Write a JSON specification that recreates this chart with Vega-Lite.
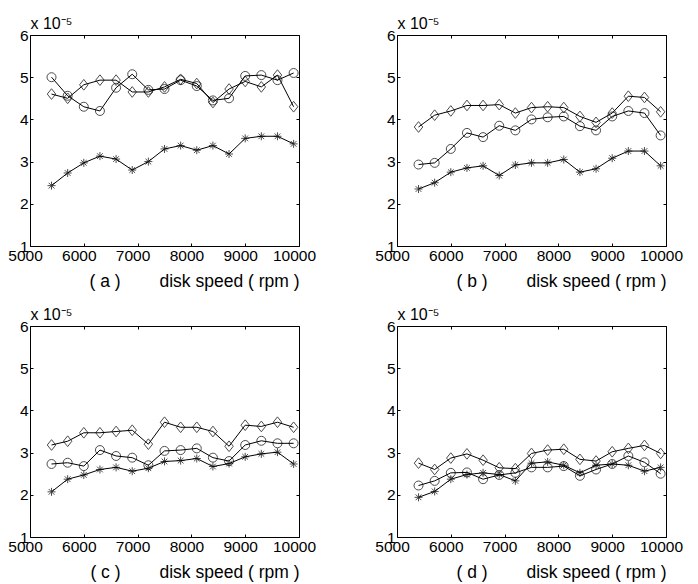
{
  "$schema": "https://vega.github.io/schema/vega-lite/v6.json",
  "background": "white",
  "padding": {"left": 7, "top": 15, "right": 5, "bottom": 5},
  "config": {
    "font": "Liberation Sans",
    "view": {"stroke": null},
    "axis": {"labelFont": "Liberation Sans", "labelFontSize": 15.5, "labelColor": "black", "titleFont": "Liberation Sans", "titleFontSize": 17.5, "titleFontWeight": "normal", "titleColor": "black", "tickColor": "black", "domainColor": "black", "grid": false, "tickSize": -3, "domainWidth": 1, "tickWidth": 1}
  },
  "datasets": {
    "pts": [
      {"p":"a","s":"circle","x":5400,"y":5.0},{"p":"a","s":"circle","x":5700,"y":4.56},{"p":"a","s":"circle","x":6000,"y":4.3},{"p":"a","s":"circle","x":6300,"y":4.2},{"p":"a","s":"circle","x":6600,"y":4.75},{"p":"a","s":"circle","x":6900,"y":5.07},{"p":"a","s":"circle","x":7200,"y":4.7},{"p":"a","s":"circle","x":7500,"y":4.72},{"p":"a","s":"circle","x":7800,"y":4.93},{"p":"a","s":"circle","x":8100,"y":4.79},{"p":"a","s":"circle","x":8400,"y":4.45},{"p":"a","s":"circle","x":8700,"y":4.5},{"p":"a","s":"circle","x":9000,"y":5.03},{"p":"a","s":"circle","x":9300,"y":5.05},{"p":"a","s":"circle","x":9600,"y":4.93},{"p":"a","s":"circle","x":9900,"y":5.1},
      {"p":"a","s":"diamond","x":5400,"y":4.6},{"p":"a","s":"diamond","x":5700,"y":4.5},{"p":"a","s":"diamond","x":6000,"y":4.82},{"p":"a","s":"diamond","x":6300,"y":4.93},{"p":"a","s":"diamond","x":6600,"y":4.93},{"p":"a","s":"diamond","x":6900,"y":4.65},{"p":"a","s":"diamond","x":7200,"y":4.65},{"p":"a","s":"diamond","x":7500,"y":4.77},{"p":"a","s":"diamond","x":7800,"y":4.95},{"p":"a","s":"diamond","x":8100,"y":4.85},{"p":"a","s":"diamond","x":8400,"y":4.4},{"p":"a","s":"diamond","x":8700,"y":4.72},{"p":"a","s":"diamond","x":9000,"y":4.9},{"p":"a","s":"diamond","x":9300,"y":4.77},{"p":"a","s":"diamond","x":9600,"y":5.05},{"p":"a","s":"diamond","x":9900,"y":4.3},
      {"p":"a","s":"star","x":5400,"y":2.43},{"p":"a","s":"star","x":5700,"y":2.73},{"p":"a","s":"star","x":6000,"y":2.97},{"p":"a","s":"star","x":6300,"y":3.13},{"p":"a","s":"star","x":6600,"y":3.06},{"p":"a","s":"star","x":6900,"y":2.8},{"p":"a","s":"star","x":7200,"y":3.0},{"p":"a","s":"star","x":7500,"y":3.3},{"p":"a","s":"star","x":7800,"y":3.38},{"p":"a","s":"star","x":8100,"y":3.27},{"p":"a","s":"star","x":8400,"y":3.38},{"p":"a","s":"star","x":8700,"y":3.18},{"p":"a","s":"star","x":9000,"y":3.55},{"p":"a","s":"star","x":9300,"y":3.6},{"p":"a","s":"star","x":9600,"y":3.6},{"p":"a","s":"star","x":9900,"y":3.42},
      {"p":"b","s":"circle","x":5400,"y":2.93},{"p":"b","s":"circle","x":5700,"y":2.97},{"p":"b","s":"circle","x":6000,"y":3.3},{"p":"b","s":"circle","x":6300,"y":3.68},{"p":"b","s":"circle","x":6600,"y":3.58},{"p":"b","s":"circle","x":6900,"y":3.85},{"p":"b","s":"circle","x":7200,"y":3.74},{"p":"b","s":"circle","x":7500,"y":4.0},{"p":"b","s":"circle","x":7800,"y":4.05},{"p":"b","s":"circle","x":8100,"y":4.07},{"p":"b","s":"circle","x":8400,"y":3.84},{"p":"b","s":"circle","x":8700,"y":3.74},{"p":"b","s":"circle","x":9000,"y":4.07},{"p":"b","s":"circle","x":9300,"y":4.2},{"p":"b","s":"circle","x":9600,"y":4.15},{"p":"b","s":"circle","x":9900,"y":3.62},
      {"p":"b","s":"diamond","x":5400,"y":3.82},{"p":"b","s":"diamond","x":5700,"y":4.1},{"p":"b","s":"diamond","x":6000,"y":4.2},{"p":"b","s":"diamond","x":6300,"y":4.33},{"p":"b","s":"diamond","x":6600,"y":4.33},{"p":"b","s":"diamond","x":6900,"y":4.35},{"p":"b","s":"diamond","x":7200,"y":4.15},{"p":"b","s":"diamond","x":7500,"y":4.28},{"p":"b","s":"diamond","x":7800,"y":4.3},{"p":"b","s":"diamond","x":8100,"y":4.28},{"p":"b","s":"diamond","x":8400,"y":4.07},{"p":"b","s":"diamond","x":8700,"y":3.93},{"p":"b","s":"diamond","x":9000,"y":4.15},{"p":"b","s":"diamond","x":9300,"y":4.55},{"p":"b","s":"diamond","x":9600,"y":4.52},{"p":"b","s":"diamond","x":9900,"y":4.18},
      {"p":"b","s":"star","x":5400,"y":2.35},{"p":"b","s":"star","x":5700,"y":2.5},{"p":"b","s":"star","x":6000,"y":2.75},{"p":"b","s":"star","x":6300,"y":2.85},{"p":"b","s":"star","x":6600,"y":2.9},{"p":"b","s":"star","x":6900,"y":2.67},{"p":"b","s":"star","x":7200,"y":2.92},{"p":"b","s":"star","x":7500,"y":2.97},{"p":"b","s":"star","x":7800,"y":2.97},{"p":"b","s":"star","x":8100,"y":3.05},{"p":"b","s":"star","x":8400,"y":2.75},{"p":"b","s":"star","x":8700,"y":2.83},{"p":"b","s":"star","x":9000,"y":3.08},{"p":"b","s":"star","x":9300,"y":3.25},{"p":"b","s":"star","x":9600,"y":3.25},{"p":"b","s":"star","x":9900,"y":2.9},
      {"p":"c","s":"circle","x":5400,"y":2.73},{"p":"c","s":"circle","x":5700,"y":2.76},{"p":"c","s":"circle","x":6000,"y":2.68},{"p":"c","s":"circle","x":6300,"y":3.06},{"p":"c","s":"circle","x":6600,"y":2.92},{"p":"c","s":"circle","x":6900,"y":2.88},{"p":"c","s":"circle","x":7200,"y":2.7},{"p":"c","s":"circle","x":7500,"y":3.04},{"p":"c","s":"circle","x":7800,"y":3.06},{"p":"c","s":"circle","x":8100,"y":3.1},{"p":"c","s":"circle","x":8400,"y":2.88},{"p":"c","s":"circle","x":8700,"y":2.8},{"p":"c","s":"circle","x":9000,"y":3.18},{"p":"c","s":"circle","x":9300,"y":3.28},{"p":"c","s":"circle","x":9600,"y":3.22},{"p":"c","s":"circle","x":9900,"y":3.22},
      {"p":"c","s":"diamond","x":5400,"y":3.18},{"p":"c","s":"diamond","x":5700,"y":3.27},{"p":"c","s":"diamond","x":6000,"y":3.47},{"p":"c","s":"diamond","x":6300,"y":3.47},{"p":"c","s":"diamond","x":6600,"y":3.5},{"p":"c","s":"diamond","x":6900,"y":3.53},{"p":"c","s":"diamond","x":7200,"y":3.2},{"p":"c","s":"diamond","x":7500,"y":3.72},{"p":"c","s":"diamond","x":7800,"y":3.6},{"p":"c","s":"diamond","x":8100,"y":3.6},{"p":"c","s":"diamond","x":8400,"y":3.5},{"p":"c","s":"diamond","x":8700,"y":3.15},{"p":"c","s":"diamond","x":9000,"y":3.65},{"p":"c","s":"diamond","x":9300,"y":3.62},{"p":"c","s":"diamond","x":9600,"y":3.72},{"p":"c","s":"diamond","x":9900,"y":3.6},
      {"p":"c","s":"star","x":5400,"y":2.07},{"p":"c","s":"star","x":5700,"y":2.37},{"p":"c","s":"star","x":6000,"y":2.47},{"p":"c","s":"star","x":6300,"y":2.6},{"p":"c","s":"star","x":6600,"y":2.65},{"p":"c","s":"star","x":6900,"y":2.56},{"p":"c","s":"star","x":7200,"y":2.63},{"p":"c","s":"star","x":7500,"y":2.79},{"p":"c","s":"star","x":7800,"y":2.81},{"p":"c","s":"star","x":8100,"y":2.86},{"p":"c","s":"star","x":8400,"y":2.67},{"p":"c","s":"star","x":8700,"y":2.74},{"p":"c","s":"star","x":9000,"y":2.9},{"p":"c","s":"star","x":9300,"y":2.97},{"p":"c","s":"star","x":9600,"y":3.01},{"p":"c","s":"star","x":9900,"y":2.73},
      {"p":"d","s":"circle","x":5400,"y":2.22},{"p":"d","s":"circle","x":5700,"y":2.33},{"p":"d","s":"circle","x":6000,"y":2.52},{"p":"d","s":"circle","x":6300,"y":2.53},{"p":"d","s":"circle","x":6600,"y":2.37},{"p":"d","s":"circle","x":6900,"y":2.47},{"p":"d","s":"circle","x":7200,"y":2.52},{"p":"d","s":"circle","x":7500,"y":2.65},{"p":"d","s":"circle","x":7800,"y":2.65},{"p":"d","s":"circle","x":8100,"y":2.68},{"p":"d","s":"circle","x":8400,"y":2.45},{"p":"d","s":"circle","x":8700,"y":2.6},{"p":"d","s":"circle","x":9000,"y":2.73},{"p":"d","s":"circle","x":9300,"y":2.92},{"p":"d","s":"circle","x":9600,"y":2.77},{"p":"d","s":"circle","x":9900,"y":2.5},
      {"p":"d","s":"diamond","x":5400,"y":2.75},{"p":"d","s":"diamond","x":5700,"y":2.6},{"p":"d","s":"diamond","x":6000,"y":2.87},{"p":"d","s":"diamond","x":6300,"y":2.97},{"p":"d","s":"diamond","x":6600,"y":2.82},{"p":"d","s":"diamond","x":6900,"y":2.64},{"p":"d","s":"diamond","x":7200,"y":2.62},{"p":"d","s":"diamond","x":7500,"y":2.98},{"p":"d","s":"diamond","x":7800,"y":3.06},{"p":"d","s":"diamond","x":8100,"y":3.08},{"p":"d","s":"diamond","x":8400,"y":2.84},{"p":"d","s":"diamond","x":8700,"y":2.8},{"p":"d","s":"diamond","x":9000,"y":3.02},{"p":"d","s":"diamond","x":9300,"y":3.1},{"p":"d","s":"diamond","x":9600,"y":3.17},{"p":"d","s":"diamond","x":9900,"y":2.98},
      {"p":"d","s":"star","x":5400,"y":1.94},{"p":"d","s":"star","x":5700,"y":2.08},{"p":"d","s":"star","x":6000,"y":2.37},{"p":"d","s":"star","x":6300,"y":2.48},{"p":"d","s":"star","x":6600,"y":2.52},{"p":"d","s":"star","x":6900,"y":2.48},{"p":"d","s":"star","x":7200,"y":2.33},{"p":"d","s":"star","x":7500,"y":2.75},{"p":"d","s":"star","x":7800,"y":2.78},{"p":"d","s":"star","x":8100,"y":2.7},{"p":"d","s":"star","x":8400,"y":2.52},{"p":"d","s":"star","x":8700,"y":2.7},{"p":"d","s":"star","x":9000,"y":2.73},{"p":"d","s":"star","x":9300,"y":2.7},{"p":"d","s":"star","x":9600,"y":2.56},{"p":"d","s":"star","x":9900,"y":2.65}
    ]
  },
  "data": {"name": "pts"},
  "columns": 2,
  "bounds": "flush",
  "spacing": {"row": 80, "column": 98},
  "concat": [
    {
      "width": 269, "height": 211,
      "transform": [{"filter": "datum.p === 'a'"}],
      "layer": [
        {"mark": {"type": "line", "color": "black", "strokeWidth": 1}, "encoding": {"x": {"field": "x", "type": "quantitative", "scale": {"domain": [5000, 10000], "nice": false}, "axis": {"orient": "bottom", "values": [5000,6000,7000,8000,9000,10000], "format": "d", "labelFlush": false, "labelOffset": -5, "labelPadding": 5, "title": "( a )\u00a0\u00a0\u00a0\u00a0\u00a0\u00a0\u00a0 disk speed ( rpm )", "titleAnchor": "end", "titlePadding": 9}}, "y": {"field": "y", "type": "quantitative", "scale": {"domain": [1, 6], "nice": false}, "axis": {"orient": "left", "values": [1,2,3,4,5,6], "labelPadding": 5, "title": "x 10⁻⁵", "titleFontSize": 16, "titleAngle": 0, "titleAlign": "left", "titleBaseline": "alphabetic", "titleX": 0, "titleY": -7}}, "detail": {"field": "s"}}},
        {"mark": {"type": "point", "color": "black", "filled": false, "size": 100}, "encoding": {"x": {"field": "x", "type": "quantitative", "axis": null}, "y": {"field": "y", "type": "quantitative", "axis": null}, "shape": {"field": "s", "scale": {"domain": ["circle","diamond","star"], "range": ["M0.9,0A0.9,0.9,0,1,1,-0.9,0A0.9,0.9,0,1,1,0.9,0Z", "M0,-1.07L0.85,0L0,1.07L-0.85,0Z", "M-0.8,0L0.8,0M0,-0.8L0,0.8M-0.57,-0.57L0.57,0.57M-0.57,0.57L0.57,-0.57"]}, "legend": null}, "strokeWidth": {"field": "s", "scale": {"domain": ["circle","diamond","star"], "range": [1, 1, 1.8]}, "legend": null}}},
        {"mark": {"type": "line", "opacity": 0}, "encoding": {"x": {"field": "x", "type": "quantitative", "axis": {"orient": "top", "values": [5000,6000,7000,8000,9000,10000], "labels": false, "title": null}}, "y": {"field": "y", "type": "quantitative", "axis": {"orient": "right", "values": [1,2,3,4,5,6], "labels": false, "title": null}}, "detail": {"field": "s"}}}
      ],
      "resolve": {"axis": {"x": "independent", "y": "independent"}}
    },
    {
      "width": 269, "height": 211,
      "transform": [{"filter": "datum.p === 'b'"}],
      "layer": [
        {"mark": {"type": "line", "color": "black", "strokeWidth": 1}, "encoding": {"x": {"field": "x", "type": "quantitative", "scale": {"domain": [5000, 10000], "nice": false}, "axis": {"orient": "bottom", "values": [5000,6000,7000,8000,9000,10000], "format": "d", "labelFlush": false, "labelOffset": -5, "labelPadding": 5, "title": "( b )\u00a0\u00a0\u00a0\u00a0\u00a0\u00a0\u00a0 disk speed ( rpm )", "titleAnchor": "end", "titlePadding": 9}}, "y": {"field": "y", "type": "quantitative", "scale": {"domain": [1, 6], "nice": false}, "axis": {"orient": "left", "values": [1,2,3,4,5,6], "labelPadding": 5, "title": "x 10⁻⁵", "titleFontSize": 16, "titleAngle": 0, "titleAlign": "left", "titleBaseline": "alphabetic", "titleX": 0, "titleY": -7}}, "detail": {"field": "s"}}},
        {"mark": {"type": "point", "color": "black", "filled": false, "size": 100}, "encoding": {"x": {"field": "x", "type": "quantitative", "axis": null}, "y": {"field": "y", "type": "quantitative", "axis": null}, "shape": {"field": "s", "scale": {"domain": ["circle","diamond","star"], "range": ["M0.9,0A0.9,0.9,0,1,1,-0.9,0A0.9,0.9,0,1,1,0.9,0Z", "M0,-1.07L0.85,0L0,1.07L-0.85,0Z", "M-0.8,0L0.8,0M0,-0.8L0,0.8M-0.57,-0.57L0.57,0.57M-0.57,0.57L0.57,-0.57"]}, "legend": null}, "strokeWidth": {"field": "s", "scale": {"domain": ["circle","diamond","star"], "range": [1, 1, 1.8]}, "legend": null}}},
        {"mark": {"type": "line", "opacity": 0}, "encoding": {"x": {"field": "x", "type": "quantitative", "axis": {"orient": "top", "values": [5000,6000,7000,8000,9000,10000], "labels": false, "title": null}}, "y": {"field": "y", "type": "quantitative", "axis": {"orient": "right", "values": [1,2,3,4,5,6], "labels": false, "title": null}}, "detail": {"field": "s"}}}
      ],
      "resolve": {"axis": {"x": "independent", "y": "independent"}}
    },
    {
      "width": 269, "height": 211,
      "transform": [{"filter": "datum.p === 'c'"}],
      "layer": [
        {"mark": {"type": "line", "color": "black", "strokeWidth": 1}, "encoding": {"x": {"field": "x", "type": "quantitative", "scale": {"domain": [5000, 10000], "nice": false}, "axis": {"orient": "bottom", "values": [5000,6000,7000,8000,9000,10000], "format": "d", "labelFlush": false, "labelOffset": -5, "labelPadding": 5, "title": "( c )\u00a0\u00a0\u00a0\u00a0\u00a0\u00a0\u00a0 disk speed ( rpm )", "titleAnchor": "end", "titlePadding": 9}}, "y": {"field": "y", "type": "quantitative", "scale": {"domain": [1, 6], "nice": false}, "axis": {"orient": "left", "values": [1,2,3,4,5,6], "labelPadding": 5, "title": "x 10⁻⁵", "titleFontSize": 16, "titleAngle": 0, "titleAlign": "left", "titleBaseline": "alphabetic", "titleX": 0, "titleY": -7}}, "detail": {"field": "s"}}},
        {"mark": {"type": "point", "color": "black", "filled": false, "size": 100}, "encoding": {"x": {"field": "x", "type": "quantitative", "axis": null}, "y": {"field": "y", "type": "quantitative", "axis": null}, "shape": {"field": "s", "scale": {"domain": ["circle","diamond","star"], "range": ["M0.9,0A0.9,0.9,0,1,1,-0.9,0A0.9,0.9,0,1,1,0.9,0Z", "M0,-1.07L0.85,0L0,1.07L-0.85,0Z", "M-0.8,0L0.8,0M0,-0.8L0,0.8M-0.57,-0.57L0.57,0.57M-0.57,0.57L0.57,-0.57"]}, "legend": null}, "strokeWidth": {"field": "s", "scale": {"domain": ["circle","diamond","star"], "range": [1, 1, 1.8]}, "legend": null}}},
        {"mark": {"type": "line", "opacity": 0}, "encoding": {"x": {"field": "x", "type": "quantitative", "axis": {"orient": "top", "values": [5000,6000,7000,8000,9000,10000], "labels": false, "title": null}}, "y": {"field": "y", "type": "quantitative", "axis": {"orient": "right", "values": [1,2,3,4,5,6], "labels": false, "title": null}}, "detail": {"field": "s"}}}
      ],
      "resolve": {"axis": {"x": "independent", "y": "independent"}}
    },
    {
      "width": 269, "height": 211,
      "transform": [{"filter": "datum.p === 'd'"}],
      "layer": [
        {"mark": {"type": "line", "color": "black", "strokeWidth": 1}, "encoding": {"x": {"field": "x", "type": "quantitative", "scale": {"domain": [5000, 10000], "nice": false}, "axis": {"orient": "bottom", "values": [5000,6000,7000,8000,9000,10000], "format": "d", "labelFlush": false, "labelOffset": -5, "labelPadding": 5, "title": "( d )\u00a0\u00a0\u00a0\u00a0\u00a0\u00a0\u00a0 disk speed ( rpm )", "titleAnchor": "end", "titlePadding": 9}}, "y": {"field": "y", "type": "quantitative", "scale": {"domain": [1, 6], "nice": false}, "axis": {"orient": "left", "values": [1,2,3,4,5,6], "labelPadding": 5, "title": "x 10⁻⁵", "titleFontSize": 16, "titleAngle": 0, "titleAlign": "left", "titleBaseline": "alphabetic", "titleX": 0, "titleY": -7}}, "detail": {"field": "s"}}},
        {"mark": {"type": "point", "color": "black", "filled": false, "size": 100}, "encoding": {"x": {"field": "x", "type": "quantitative", "axis": null}, "y": {"field": "y", "type": "quantitative", "axis": null}, "shape": {"field": "s", "scale": {"domain": ["circle","diamond","star"], "range": ["M0.9,0A0.9,0.9,0,1,1,-0.9,0A0.9,0.9,0,1,1,0.9,0Z", "M0,-1.07L0.85,0L0,1.07L-0.85,0Z", "M-0.8,0L0.8,0M0,-0.8L0,0.8M-0.57,-0.57L0.57,0.57M-0.57,0.57L0.57,-0.57"]}, "legend": null}, "strokeWidth": {"field": "s", "scale": {"domain": ["circle","diamond","star"], "range": [1, 1, 1.8]}, "legend": null}}},
        {"mark": {"type": "line", "opacity": 0}, "encoding": {"x": {"field": "x", "type": "quantitative", "axis": {"orient": "top", "values": [5000,6000,7000,8000,9000,10000], "labels": false, "title": null}}, "y": {"field": "y", "type": "quantitative", "axis": {"orient": "right", "values": [1,2,3,4,5,6], "labels": false, "title": null}}, "detail": {"field": "s"}}}
      ],
      "resolve": {"axis": {"x": "independent", "y": "independent"}}
    }
  ]
}
